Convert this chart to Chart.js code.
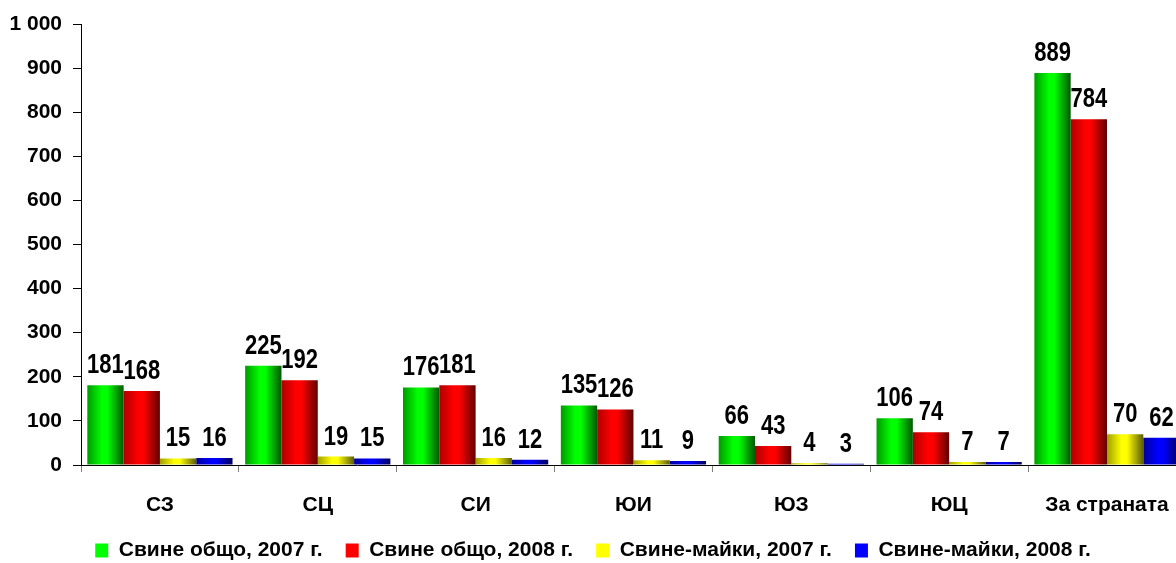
<!DOCTYPE html>
<html lang="bg">
<head>
  <meta charset="UTF-8" />
  <title>Свине по райони</title>
  <script src="https://cdn.jsdelivr.net/npm/chart.js"></script>
  <style>
    html, body { margin: 0; padding: 0; background: #fff; overflow: hidden; }
    #wrap { width: 1190px; height: 563px; }
  </style>
</head>
<body>
  <div id="wrap"><canvas id="chart"></canvas></div>
  <script>
    // regions
    const regions = ['СЗ', 'СЦ', 'СИ', 'ЮИ', 'ЮЗ', 'ЮЦ', 'За страната'];

    // thousands of heads
    const pigs2007 = [181, 225, 176, 135, 66, 106, 889];
    const pigs2008 = [168, 192, 181, 126, 43, 74, 784];
    const sows2007 = [15, 19, 16, 11, 4, 7, 70];
    const sows2008 = [16, 15, 12, 9, 3, 7, 62];

    const seriesNames = ['Свине общо, 2007 г.', 'Свине общо, 2008 г.', 'Свине-майки, 2007 г.', 'Свине-майки, 2008 г.'];

    // edge / centre / far edge colours of the cylinder-like bars
    const shades = [
      ['#009a00', '#00ff00', '#005800'],
      ['#b00000', '#ff0000', '#600000'],
      ['#a0a000', '#ffff00', '#5c5c00'],
      ['#00009a', '#0000ff', '#000058']
    ];

    const CAT_PCT = 0.92;
    const FONT = "'Liberation Sans', Arial, sans-serif";

    function barFill(ctx) {
      const s = shades[ctx.datasetIndex];
      const chart = ctx.chart;
      const xs = chart.scales && chart.scales.x;
      if (ctx.type !== 'data' || ctx.dataIndex === undefined || !xs || !xs.width) return s[1];
      const cw = xs.width / regions.length;
      const size = cw * CAT_PCT;
      const bw = size / 4;
      const left = xs.getPixelForValue(ctx.dataIndex) - size / 2 + bw * ctx.datasetIndex;
      const g = chart.ctx.createLinearGradient(left, 0, left + bw, 0);
      g.addColorStop(0, s[0]);
      g.addColorStop(0.4, s[1]);
      g.addColorStop(0.55, s[1]);
      g.addColorStop(1, s[2]);
      return g;
    }

    // value above each bar, slightly stretched upward like the original
    const valueLabels = {
      id: 'valueLabels',
      afterDatasetsDraw(chart) {
        const c = chart.ctx;
        chart.data.datasets.forEach((ds, i) => {
          chart.getDatasetMeta(i).data.forEach((bar, j) => {
            c.save();
            c.translate(bar.x, bar.y - 12);
            c.scale(1, 1.22);
            c.font = 'bold 22px ' + FONT;
            c.fillStyle = '#000';
            c.textAlign = 'center';
            c.textBaseline = 'alphabetic';
            c.fillText(String(ds.data[j]), 0, 0);
            c.restore();
          });
        });
      }
    };

    Chart.defaults.font.family = FONT;
    Chart.defaults.font.weight = 'bold';
    Chart.defaults.color = '#000';

    const allSeries = [pigs2007, pigs2008, sows2007, sows2008];

    new Chart(document.getElementById('chart'), {
      type: 'bar',
      data: {
        labels: regions,
        datasets: allSeries.map((vals, i) => ({
          label: seriesNames[i],
          data: vals,
          backgroundColor: barFill,
          borderWidth: 0,
          categoryPercentage: CAT_PCT,
          barPercentage: 1
        }))
      },
      options: {
        responsive: true,
        maintainAspectRatio: false,
        animation: false,
        layout: { padding: { top: 24, right: 4, left: 0, bottom: 0 } },
        plugins: {
          tooltip: { enabled: false },
          legend: {
            position: 'bottom',
            maxHeight: 46,
            labels: {
              boxWidth: 13,
              boxHeight: 14,
              padding: 23,
              font: { size: 21, weight: 'bold' },
              generateLabels(chart) {
                const items = Chart.defaults.plugins.legend.labels.generateLabels(chart);
                items.forEach((it, i) => {
                  it.fillStyle = shades[i][1];
                  it.strokeStyle = shades[i][0];
                  it.lineWidth = 0;
                });
                return items;
              }
            }
          }
        },
        scales: {
          x: {
            grid: { offset: true, drawOnChartArea: false, tickLength: 7, color: '#808080' },
            border: { color: '#000', width: 1 },
            ticks: { padding: 21, font: { size: 21, weight: 'bold' }, maxRotation: 0 },
            afterFit(scale) { scale.height = 52; }
          },
          y: {
            min: 0,
            max: 1000,
            ticks: {
              stepSize: 100,
              padding: 11,
              font: { size: 21, weight: 'bold' },
              callback: v => String(v).replace(/\B(?=(\d{3})+(?!\d))/g, ' ')
            },
            grid: { drawOnChartArea: false, tickLength: 8, color: '#000' },
            border: { color: '#000', width: 1 },
            afterFit(scale) { scale.width = 81; }
          }
        }
      },
      plugins: [valueLabels]
    });
  </script>
</body>
</html>
